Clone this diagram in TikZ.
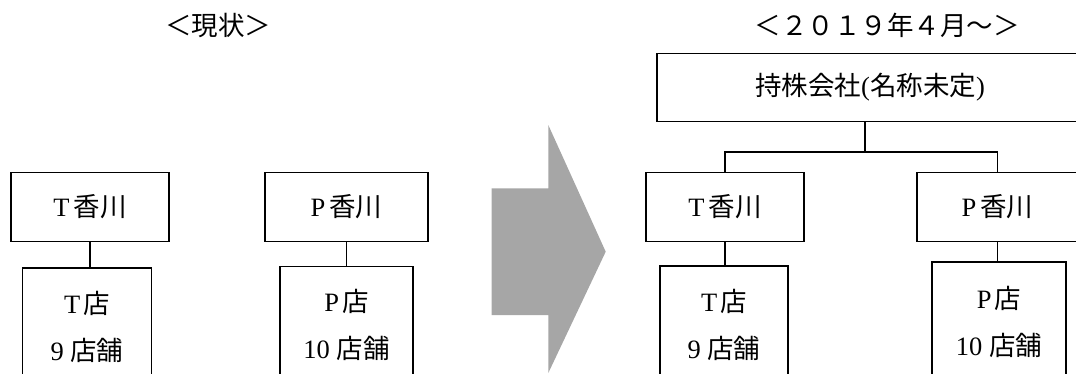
\documentclass[tikz,border=0pt]{standalone}
\usepackage{fontspec}
\setmainfont{Liberation Serif}
\newfontfamily\jp{Noto Sans CJK JP}
\usetikzlibrary{positioning}
\definecolor{arrowgray}{RGB}{166,166,166}

\begin{document}
\begin{tikzpicture}[
        x=1pt, y=-1pt,
        every node/.style={font=\fontsize{26.5}{47}\selectfont, inner sep=0pt},
        orgbox/.style={draw, line width=1.6pt, minimum height=69pt},
        shopbox/.style={draw, line width=1.6pt, align=center, anchor=north},
        link/.style={line width=1.6pt}
    ]
        \useasboundingbox (0,0) rectangle (1076,373);

        % titles
        \node (nowtitle) at (218,25) {\jp ＜現状＞};
        \node (newtitle) at (887,25) {\jp ＜２０１９年４月～＞};

        % now
        \node[orgbox, minimum width=158pt] (tkagawa) at (90,207) {T\hspace{4pt}{\jp 香川}};
        \node[shopbox, minimum width=129pt, minimum height=118pt] (tshop) at (87,267) {T\hspace{3pt}{\jp 店}\\9 {\jp 店舗}};
        \node[orgbox, minimum width=163pt] (pkagawa) at (346.5,207) {P\hspace{4pt}{\jp 香川}};
        \node[shopbox, minimum width=133pt, minimum height=118pt] (pshop) at (346.5,265.5) {P\hspace{3pt}{\jp 店}\\10 {\jp 店舗}};

        \draw[link] (tkagawa.south) -- (tkagawa.south |- tshop.north);
        \draw[link] (pkagawa.south) -- (pshop.north);

        % big arrow
        \fill[arrowgray] (491.7,188.3) -- (548.3,188.3) -- (548.3,125) -- (605.7,251.7)
            -- (548.3,373) -- (548.3,315) -- (491.7,315) -- cycle;

        % from 2019
        \node[orgbox, minimum width=426pt, minimum height=68pt] (holding) at (870,87.5) {{\jp 持株会社}({\jp 名称未定})};
        \coordinate (fork) at (865,152);
        \node[orgbox, minimum width=158pt] (tkagawa2) at (725,207) {T\hspace{4pt}{\jp 香川}};
        \node[shopbox, minimum width=128pt, minimum height=118pt] (tshop2) at (724,265) {T\hspace{3pt}{\jp 店}\\9 {\jp 店舗}};
        \node[orgbox, minimum width=161pt] (pkagawa2) at (997.5,207) {P\hspace{4pt}{\jp 香川}};
        \node[shopbox, minimum width=134pt, minimum height=121pt] (pshop2) at (999,261) {P\hspace{3pt}{\jp 店}\\10 {\jp 店舗}};

        \draw[link] (fork |- holding.south) -- (fork);
        \draw[link] (tkagawa2.north) |- (fork) -| (pkagawa2.north);
        \draw[link] (tkagawa2.south) -- (tkagawa2.south |- tshop2.north);
        \draw[link] (pkagawa2.south) -- (pkagawa2.south |- pshop2.north);
    \end{tikzpicture}
\end{document}
